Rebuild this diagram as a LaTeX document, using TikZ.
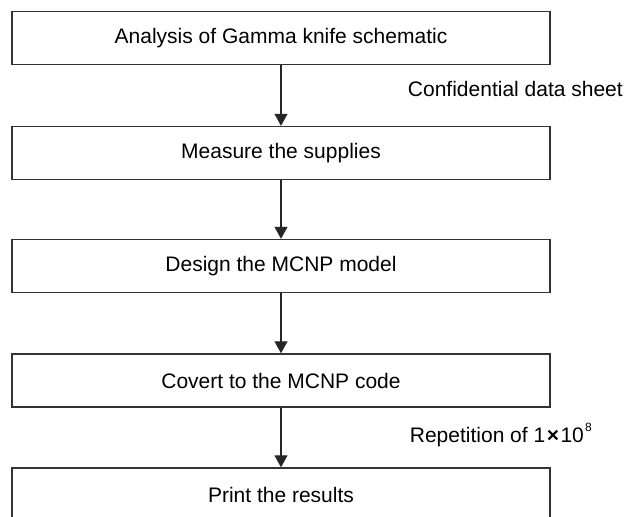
\documentclass[tikz,border=0pt]{standalone}
\usepackage{fontspec}
\setmainfont{Liberation Sans}
\usetikzlibrary{arrows.meta}
\begin{document}
\begin{tikzpicture}[x=1pt,y=-1pt,
  stepbox/.style={draw=black!80, line width=1.4pt, minimum width=538pt, minimum height=53pt, inner sep=0pt, font=\fontsize{21}{25}\selectfont},
  flow/.style={draw=black!85, line width=1.3pt, -{Triangle[width=13pt,length=12pt]}},
  note/.style={font=\fontsize{21}{25}\selectfont, inner sep=0pt, anchor=base east}]
\useasboundingbox (0,0) rectangle (627,517);
\clip (0,0) rectangle (627,517);
\node[stepbox] (a) at (281,38) {Analysis of Gamma knife schematic};
\node[stepbox] (b) at (281,153) {Measure the supplies};
\node[stepbox] (c) at (281,266) {Design the MCNP model};
\node[stepbox] (d) at (281,380.5) {Covert to the MCNP code};
\node[stepbox] (e) at (281,494.5) {Print the results};
\draw[flow] (a) -- (b);
\draw[flow] (b) -- (c);
\draw[flow] (c) -- (d);
\draw[flow] (d) -- (e);
\node[note] (n1) at (623,96) {Confidential data sheet};
\node[note] (n2) at (592,442) {Repetition of 1\kern1.5pt{\bfseries ×}\kern1.5pt10\kern1.2pt\raisebox{10.5pt}{\fontsize{12}{12}\selectfont 8}};
\end{tikzpicture}
\end{document}
